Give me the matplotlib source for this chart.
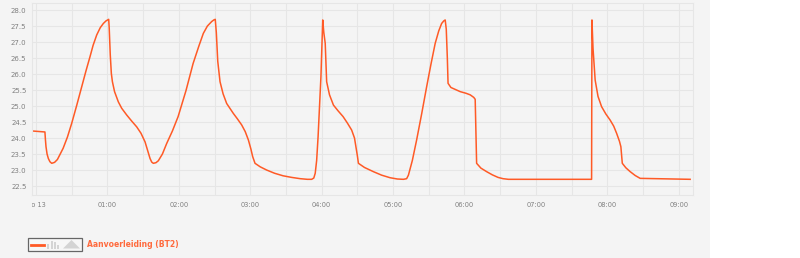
import matplotlib
matplotlib.use("Agg")
import matplotlib.pyplot as plt
from matplotlib.patches import Rectangle, Polygon
from matplotlib.transforms import Bbox, TransformedBbox

# --- data: hours since midnight (do 13) and flow temperature ---
hours = [-0.05, 0.125, 0.132, 0.14, 0.155, 0.173, 0.195, 0.22, 0.26, 0.3, 0.38, 0.44, 0.5, 0.57,
         0.64, 0.70, 0.756, 0.80, 0.85, 0.90, 0.943, 0.98, 1.018,
         1.025, 1.04, 1.055, 1.07, 1.1, 1.153, 1.2, 1.27, 1.34, 1.41, 1.47, 1.527, 1.565, 1.597,
         1.62, 1.643, 1.68, 1.713, 1.77, 1.83, 1.91, 1.99, 2.1, 2.2, 2.28, 2.343, 2.40, 2.46, 2.49, 2.51,
         2.525, 2.545, 2.577, 2.62, 2.67, 2.763, 2.82, 2.88, 2.93, 2.974, 3.01, 3.034, 3.067,
         3.14, 3.23, 3.34, 3.46, 3.58, 3.70, 3.80, 3.86, 3.89, 3.91, 3.93, 3.95, 3.97, 3.99, 4.015,
         4.03, 4.05, 4.07, 4.11, 4.165, 4.23, 4.30, 4.36, 4.42, 4.46, 4.48, 4.50, 4.515,
         4.6, 4.724, 4.84, 4.958, 5.06, 5.145, 5.19, 5.215, 5.27, 5.33, 5.40, 5.47, 5.53, 5.59,
         5.64, 5.68, 5.71, 5.73, 5.745, 5.76, 5.77, 5.81, 5.89, 5.94, 6.02, 6.08, 6.13, 6.15,
         6.17, 6.23, 6.31, 6.39, 6.47, 6.54, 6.615, 7.78, 7.785, 7.80, 7.83, 7.87, 7.92, 7.98,
         8.04, 8.09, 8.13, 8.17, 8.19, 8.21, 8.26, 8.32, 8.39, 8.46, 9.16]
temps = [24.22, 24.19, 23.95, 23.73, 23.5, 23.36, 23.26, 23.21, 23.24, 23.33, 23.68, 24.03, 24.46, 25.02,
         25.6, 26.1, 26.54, 26.9, 27.22, 27.45, 27.58, 27.66, 27.71,
         27.45, 26.6, 26.02, 25.76, 25.45, 25.13, 24.93, 24.72, 24.53, 24.35, 24.15, 23.88, 23.6, 23.36,
         23.25, 23.21, 23.23, 23.29, 23.5, 23.83, 24.22, 24.67, 25.48, 26.33, 26.87, 27.27, 27.5, 27.64, 27.69, 27.71,
         27.3, 26.4, 25.76, 25.38, 25.08, 24.77, 24.6, 24.41, 24.2, 23.94, 23.65, 23.42, 23.21,
         23.1, 23.0, 22.9, 22.82, 22.77, 22.73, 22.71, 22.71, 22.75, 22.9, 23.3, 24.04, 24.95, 25.92, 27.69,
         27.3, 26.96, 25.76, 25.35, 25.03, 24.85, 24.67, 24.47, 24.25, 24.0, 23.73, 23.45, 23.21,
         23.08, 22.95, 22.84, 22.76, 22.72, 22.71, 22.73, 22.84, 23.3, 23.94, 24.75, 25.6, 26.3, 26.96,
         27.35, 27.58, 27.66, 27.69, 27.4, 26.5, 25.71, 25.58, 25.5, 25.45, 25.4, 25.35, 25.27, 25.21,
         23.21, 23.06, 22.95, 22.85, 22.77, 22.73, 22.71, 22.71, 27.69, 26.8, 25.81, 25.3, 24.98, 24.75,
         24.56, 24.37, 24.15, 23.9, 23.73, 23.21, 23.07, 22.95, 22.83, 22.74, 22.71]

x_ticks = list(range(10))
x_labels = ["do 13", "01:00", "02:00", "03:00", "04:00", "05:00", "06:00", "07:00", "08:00", "09:00"]
y_ticks = [22.5 + 0.5 * i for i in range(12)]
series_name = "Aanvoerleiding (BT2)"

W, H = 800, 258
line_color = "#ff5a26"
grid_color = "#e6e6e6"
bg = "#f4f4f4"


def px(x, y):
    return x / W, 1 - y / H


fig = plt.figure(figsize=(W / 100, H / 100), dpi=100, facecolor="white")
# grey panel behind the chart, white strip on the right
fig.patches.append(Rectangle((0, 0), 710 / W, 1, transform=fig.transFigure,
                             facecolor=bg, edgecolor="none", zorder=-10))

ax = fig.add_axes([32 / W, 1 - 195 / H, (693 - 32) / W, (195 - 3) / H])
ax.set_facecolor("none")
ax.plot(hours, temps, color=line_color, lw=1.1, solid_joinstyle="round")

ax.set_xticks(x_ticks)
ax.set_xticklabels(x_labels)
ax.set_xticks([i + 0.5 for i in range(0, 9)], minor=True)
ax.set_yticks(y_ticks)
ax.set_yticklabels([f"{v:.1f}" for v in y_ticks])
ax.set_xlim(-0.056, 9.2)
ax.set_ylim(22.22, 28.22)
ax.grid(True, which="both", color=grid_color, lw=0.8)
ax.set_axisbelow(True)
ax.tick_params(axis="both", which="both", length=0, labelsize=5, labelcolor="#808080")
ax.tick_params(axis="x", pad=5, labelsize=4.8)
ax.tick_params(axis="y", pad=4)
for s in ax.spines.values():
    s.set_color(grid_color)
    s.set_linewidth(0.8)

# first x label is cut off at the plot's left edge
fig.canvas.draw()
first = ax.get_xticklabels()[0]
first.set_clip_box(TransformedBbox(Bbox([[32 / W, 0], [1, 1]]), fig.transFigure))
first.set_clip_on(True)

# legend / navigator box
x0, y0 = px(28, 251)
fig.patches.append(Rectangle((x0, y0), 54 / W, 13.5 / H, transform=fig.transFigure,
                             facecolor="#f7f7f7", edgecolor="#666666", lw=0.9))
fig.lines.append(plt.Line2D([31 / W, 44 / W], [1 - 244.7 / H] * 2, transform=fig.transFigure,
                            color=line_color, lw=2))
for bx, bh in zip([47, 50.5, 54, 57.5], [5, 8, 7, 4]):
    fig.patches.append(Rectangle(px(bx, 248.5), 2 / W, bh / H, transform=fig.transFigure,
                                 facecolor="#d4d4d4", edgecolor="none"))
fig.patches.append(Polygon([px(63, 248.5), px(71.5, 240), px(80, 248.5)], closed=True,
                           transform=fig.transFigure, facecolor="#d4d4d4", edgecolor="none"))
fig.text(*px(87, 244.5), series_name, color="#ff6a3d", fontsize=5.5, fontweight="bold",
         va="center", ha="left")

fig.savefig("out.png", dpi=100, facecolor=fig.get_facecolor())
